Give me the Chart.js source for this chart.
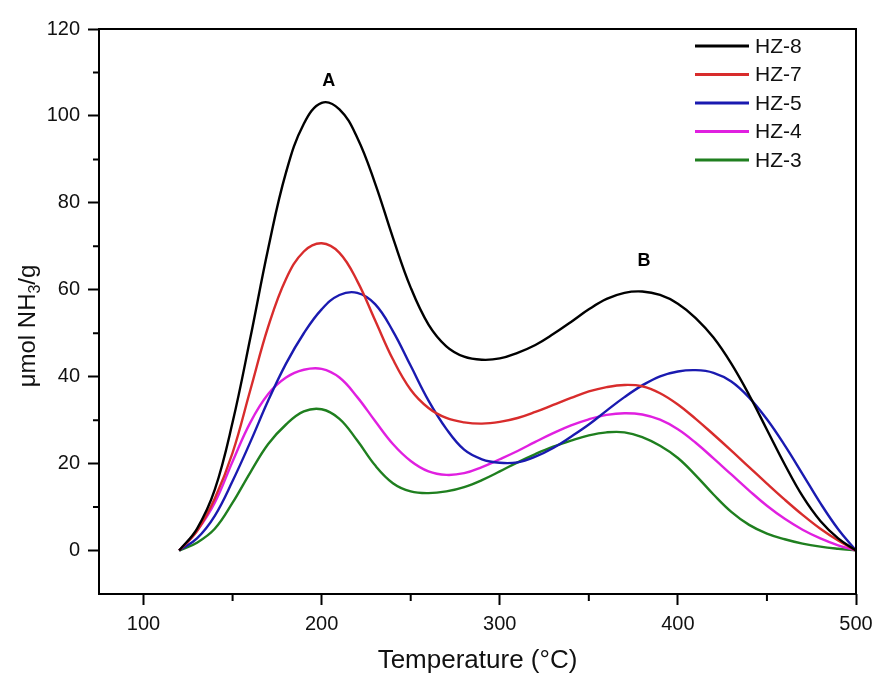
<!DOCTYPE html>
<html><head><meta charset="utf-8">
<script src="https://cdn.jsdelivr.net/npm/chart.js@4/dist/chart.umd.min.js"></script>
<style>html,body{margin:0;padding:0;background:#fff}#wrap{width:876px;height:675px}</style>
</head><body><div id="wrap"><canvas id="c" width="876" height="675"></canvas></div>
<script>
// Temperature (°C)
const temperatures = [120,130,140,150,160,170,180,190,200,210,220,230,240,250,260,270,280,290,300,310,320,330,340,350,360,370,380,390,400,410,420,430,440,450,460,470,480,490,500];
// µmol NH3/g
const hz8 = [0,5,14,29.5,49,69.5,87,98.2,103,101.5,95,84.5,72,60.5,52,47,44.6,43.9,44.2,45.5,47.3,49.8,52.6,55.5,57.9,59.3,59.6,58.8,56.8,53.5,49,43,35.8,27.8,19.8,12.5,6.8,2.8,0];
const hz7 = [0,4.5,12,22.5,37,51.5,62.5,68.8,70.7,68.5,62,53,44,37,32.8,30.5,29.5,29.2,29.6,30.5,31.9,33.5,35.1,36.6,37.6,38.1,37.8,36.2,33.6,30.3,26.7,23,19.2,15.4,11.7,8.2,5,2.3,0];
const hz5 = [0,2.8,8,16,25,34.5,43,50,55.5,58.8,59.3,56.7,50.5,42.5,34.5,28,23.2,21,20.2,20.3,21.6,23.6,26.2,29,32.2,35.3,38,40.1,41.2,41.5,40.9,38.9,35.2,30.2,24.2,17.6,10.9,4.9,0];
const hz4 = [0,4.5,11,20.5,29.5,36,39.8,41.6,41.8,39.8,35.3,29.8,24.5,20.6,18.2,17.4,17.8,19.2,21,22.9,25,27,28.8,30.2,31.2,31.6,31.3,30.1,27.9,24.8,21.2,17.5,13.8,10.3,7.3,4.8,2.8,1.2,0];
const hz3 = [0,1.8,5,11,18,24.5,29,32,32.5,30.3,25.3,19.6,15.5,13.6,13.2,13.6,14.6,16.2,18.2,20.3,22.2,23.9,25.3,26.5,27.2,27.2,26.1,24.1,21.3,17.3,12.9,8.9,5.9,3.9,2.6,1.6,0.9,0.4,0];

const seriesNames = ['HZ-8','HZ-7','HZ-5','HZ-4','HZ-3'];
const seriesValues = [hz8,hz7,hz5,hz4,hz3];
const seriesColors = ['#000000','#d82c2c','#1a1ab0','#e020e0','#1f7f1f'];

const xTicks = [100,200,300,400,500];
const xMinorTicks = [150,250,350,450];
const yTicks = [0,20,40,60,80,100,120];
const yMinorTicks = [10,30,50,70,90,110];

const peakLabels = ['A','B'];
const peakLabelX = [204,381];
const peakLabelY = [108,66.5];

const FONT = '"Liberation Sans", Arial, sans-serif';

const datasets = seriesNames.map((name,i)=>({
  label: name,
  data: temperatures.map((t,j)=>({x:t,y:seriesValues[i][j]})),
  borderColor: seriesColors[i],
  backgroundColor: seriesColors[i],
  borderWidth: 2.4,
  pointRadius: 0,
  fill: false,
  tension: 0.4
}));

const decor = {
  id: 'decor',
  afterDraw(chart){
    const ctx = chart.ctx;
    const a = chart.chartArea;
    const xs = chart.scales.x, ys = chart.scales.y;
    ctx.save();
    // frame
    ctx.strokeStyle = '#000'; ctx.lineWidth = 2;
    ctx.strokeRect(a.left, a.top, a.right - a.left, a.bottom - a.top);
    // minor ticks
    ctx.lineWidth = 2;
    ctx.beginPath();
    xMinorTicks.forEach(v=>{const px = xs.getPixelForValue(v); ctx.moveTo(px, a.bottom); ctx.lineTo(px, a.bottom + 7);});
    yMinorTicks.forEach(v=>{const py = ys.getPixelForValue(v); ctx.moveTo(a.left, py); ctx.lineTo(a.left - 6, py);});
    ctx.stroke();
    // x title
    ctx.fillStyle = '#111';
    ctx.font = '26px ' + FONT;
    ctx.textAlign = 'center'; ctx.textBaseline = 'middle';
    ctx.fillText('Temperature (\u00B0C)', (a.left + a.right)/2, 661);
    // y title with subscript
    ctx.save();
    ctx.translate(35, 326);
    ctx.rotate(-Math.PI/2);
    ctx.textBaseline = 'alphabetic'; ctx.textAlign = 'left';
    const main1 = '\u03BCmol NH', sub = '3', main2 = '/g';
    ctx.font = '24px ' + FONT;
    const w1 = ctx.measureText(main1).width, w3 = ctx.measureText(main2).width;
    ctx.font = '16px ' + FONT;
    const w2 = ctx.measureText(sub).width;
    const total = w1 + w2 + w3;
    let x0 = -total/2;
    ctx.font = '24px ' + FONT;
    ctx.fillText(main1, x0, 0);
    ctx.font = '16px ' + FONT;
    ctx.fillText(sub, x0 + w1, 5);
    ctx.font = '24px ' + FONT;
    ctx.fillText(main2, x0 + w1 + w2, 0);
    ctx.restore();
    // legend
    ctx.font = '21px ' + FONT;
    ctx.textAlign = 'left'; ctx.textBaseline = 'middle';
    chart.data.datasets.forEach((ds,i)=>{
      const y = 46 + i*28.5;
      ctx.strokeStyle = ds.borderColor; ctx.lineWidth = 3;
      ctx.beginPath(); ctx.moveTo(695, y); ctx.lineTo(749, y); ctx.stroke();
      ctx.fillStyle = '#111';
      ctx.fillText(ds.label, 755, y + 1);
    });
    // peak labels
    ctx.font = 'bold 18px ' + FONT;
    ctx.textAlign = 'center'; ctx.textBaseline = 'middle';
    ctx.fillStyle = '#000';
    peakLabels.forEach((t,i)=>{
      ctx.fillText(t, xs.getPixelForValue(peakLabelX[i]), ys.getPixelForValue(peakLabelY[i]));
    });
    ctx.restore();
  }
};

new Chart(document.getElementById('c'), {
  type: 'line',
  data: { datasets },
  options: {
    responsive: false,
    animation: false,
    devicePixelRatio: 1,
    layout: { padding: { left: 0, top: 29, right: 20, bottom: 0 } },
    plugins: { legend: { display: false }, tooltip: { enabled: false } },
    scales: {
      x: {
        type: 'linear', min: 75, max: 500,
        afterBuildTicks(s){ s.ticks = xTicks.map(v=>({value:v})); },
        afterFit(s){ s.height = 81; s.paddingLeft = 0; s.paddingRight = 0; },
        border: { display: false },
        grid: { drawOnChartArea: false, drawTicks: true, tickLength: 11, tickColor: '#000', tickWidth: 2 },
        ticks: { color: '#111', font: { family: FONT, size: 20 }, padding: 7, maxRotation: 0 }
      },
      y: {
        type: 'linear', min: -10, max: 120,
        afterBuildTicks(s){ s.ticks = yTicks.map(v=>({value:v})); },
        afterFit(s){ s.width = 99; s.paddingTop = 0; s.paddingBottom = 0; },
        border: { display: false },
        grid: { drawOnChartArea: false, drawTicks: true, tickLength: 11, tickColor: '#000', tickWidth: 2 },
        ticks: { color: '#111', font: { family: FONT, size: 20 }, padding: 8 }
      }
    }
  },
  plugins: [decor]
});
</script>
</body></html>
